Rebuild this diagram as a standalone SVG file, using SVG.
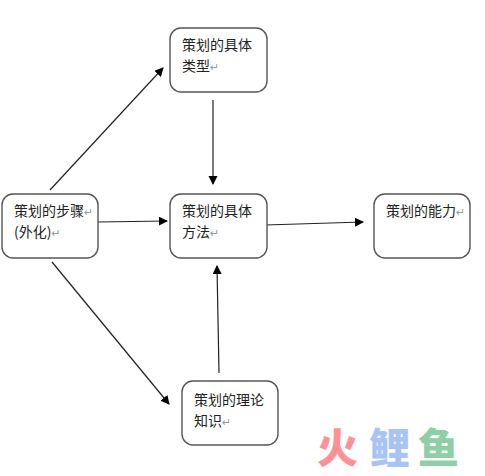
<svg xmlns="http://www.w3.org/2000/svg" width="485" height="476" viewBox="0 0 485 476">
<defs>
<marker id="arr" markerUnits="userSpaceOnUse" markerWidth="9" markerHeight="10" refX="8" refY="4.5" orient="auto"><path d="M0,0 L9,4.5 L0,9 Z" fill="#000"/></marker>
</defs>
<style>
.box{fill:#fff;stroke:#555;stroke-width:1.4}
.t{font-family:"Noto Sans CJK SC","Liberation Sans",sans-serif;font-size:14px;fill:#222}
.r{font-family:"DejaVu Sans",sans-serif;font-size:11px;fill:#999}
.c{fill:none;stroke:#222;stroke-width:1.2;marker-end:url(#arr)}
.w{font-family:"Noto Sans CJK SC",sans-serif;font-size:41px;font-weight:900}
</style>
<rect width="485" height="476" fill="#fff"/>
<g id="connectors">
<path class="c" d="M50,190 L163,68"/>
<path class="c" d="M213,100 L213,184"/>
<path class="c" d="M98,222 L167,221"/>
<path class="c" d="M265,225 L363,222"/>
<path class="c" d="M219,373 L217,266"/>
<path class="c" d="M52,262 L169,404"/>
</g>
<g id="node-type">
<rect class="box" x="170" y="28" width="97" height="64" rx="11"/>
<text class="t" x="182" y="50">策划的具体</text>
<text class="t" x="182" y="71">类型<tspan class="r">↵</tspan></text>
</g>
<g id="node-steps">
<rect class="box" x="2" y="194" width="96" height="64" rx="11"/>
<text class="t" x="14" y="216">策划的步骤<tspan class="r">↵</tspan></text>
<text class="t" x="14" y="237">(外化)<tspan class="r">↵</tspan></text>
</g>
<g id="node-method">
<rect class="box" x="170" y="194" width="97" height="64" rx="11"/>
<text class="t" x="182" y="216">策划的具体</text>
<text class="t" x="182" y="237">方法<tspan class="r">↵</tspan></text>
</g>
<g id="node-ability">
<rect class="box" x="374" y="194" width="96" height="64" rx="11"/>
<text class="t" x="386" y="216">策划的能力<tspan class="r">↵</tspan></text>
</g>
<g id="node-theory">
<rect class="box" x="182" y="381" width="96" height="64" rx="11"/>
<text class="t" x="194" y="405">策划的理论</text>
<text class="t" x="194" y="426">知识<tspan class="r">↵</tspan></text>
</g>
<g id="watermark">
<text class="w" x="317" y="463" fill="#ff9097">火</text>
<text class="w" x="369" y="463" fill="#a8c4f5">鲤</text>
<text class="w" x="418" y="463" fill="#8fcfa5">鱼</text>
</g>
</svg>
